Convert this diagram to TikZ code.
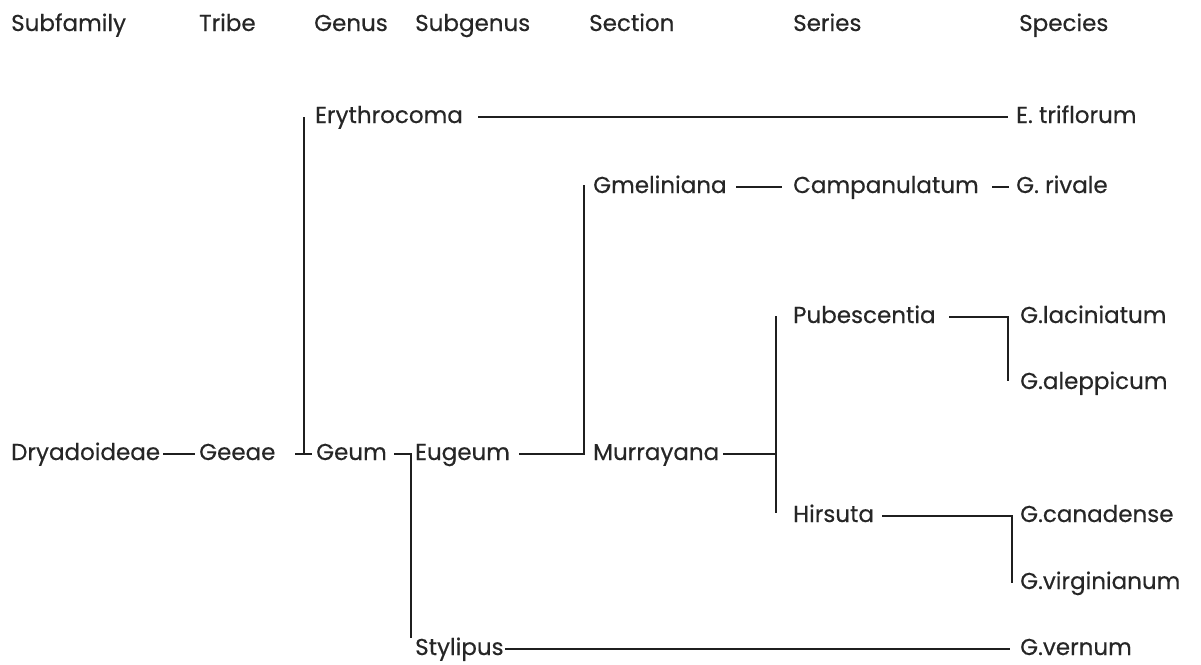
\documentclass[tikz,border=0pt]{standalone}
\usepackage{fontspec}
\setmainfont{Poppins}[FakeBold=0.4]
\begin{document}
\begin{tikzpicture}[x=1pt,y=-1pt,
  lab/.style={anchor=west, inner sep=0pt, text height=17pt, text depth=5pt,
    font=\fontsize{23}{27}\selectfont, text=black!85},
  link/.style={line width=2.2pt, black!88}]
\useasboundingbox (0,0) rectangle (1201,664);
% column headers
\node[lab] (hSubfamily) at (11,25) {Subfamily};
\node[lab] (hTribe) at (199,25) {Tribe};
\node[lab] (hGenus) at (314,25) {Genus};
\node[lab] (hSubgenus) at (415,25) {Subgenus};
\node[lab] (hSection) at (589,25) {Section};
\node[lab] (hSeries) at (793,25) {Series};
\node[lab] (hSpecies) at (1019,25) {Species};
% taxa
\node[lab] (dry) at (11,454) {Dryadoideae};
\node[lab] (geeae) at (199,454) {Geeae};
\node[lab] (geum) at (316,454) {Geum};
\node[lab] (eryth) at (315,117) {Erythrocoma};
\node[lab] (eugeum) at (415,454) {Eugeum};
\node[lab] (styl) at (415,649) {Stylipus};
\node[lab] (gmel) at (593,187) {Gmeliniana};
\node[lab] (murr) at (593,454) {Murrayana};
\node[lab] (camp) at (793,187) {Campanulatum};
\node[lab] (pub) at (793,317) {Pubescentia};
\node[lab] (hir) at (793,516) {Hirsuta};
\node[lab] (etri) at (1016,117) {E. triflorum};
\node[lab] (griv) at (1016,187) {G. rivale};
\node[lab] (glac) at (1020,317) {G.laciniatum};
\node[lab] (galep) at (1020,383) {G.aleppicum};
\node[lab] (gcan) at (1020,516) {G.canadense};
\node[lab] (gvir) at (1020,583) {G.virginianum};
\node[lab] (gver) at (1020,649) {G.vernum};
% junction columns
\coordinate (jGenus) at (304,0);
\coordinate (jSub) at (411,0);
\coordinate (jSec) at (584,0);
\coordinate (jSer) at (776,0);
\coordinate (jPub) at (1008,0);
\coordinate (jHir) at (1012,0);
% connectors
\draw[link] ([xshift=3pt]dry.east) -- ([xshift=-4pt]geeae.west);
\draw[link] ([xshift=-21pt]geum.west) -- ([xshift=-4pt]geum.west);
\draw[link] (jGenus |- geum.west) -- (jGenus |- eryth.west);
\draw[link] ([xshift=163pt]eryth.west) -- ([xshift=-8pt]etri.west);
\draw[link] ([xshift=-21pt]eugeum.west) -| ([yshift=11pt]jSub |- styl.west);
\draw[link] ([xshift=1pt]styl.east) -- ([xshift=-10pt]gver.west);
\draw[link] ([xshift=104pt]eugeum.west) -| ([yshift=2pt]jSec |- gmel.west);
\draw[link] ([xshift=-57pt]camp.west) -- ([xshift=-11pt]camp.west);
\draw[link] ([xshift=-24pt]griv.west) -- ([xshift=-7pt]griv.west);
\draw[link] ([xshift=4pt]murr.east) -- (jSer |- murr.west);
\draw[link] ([yshift=1pt]jSer |- pub.west) -- ([yshift=3pt]jSer |- hir.west);
\draw[link] ([xshift=156pt]pub.west) -| ([yshift=2pt]jPub |- galep.west);
\draw[link] ([xshift=89pt]hir.west) -| (jHir |- gvir.west);
\end{tikzpicture}
\end{document}
